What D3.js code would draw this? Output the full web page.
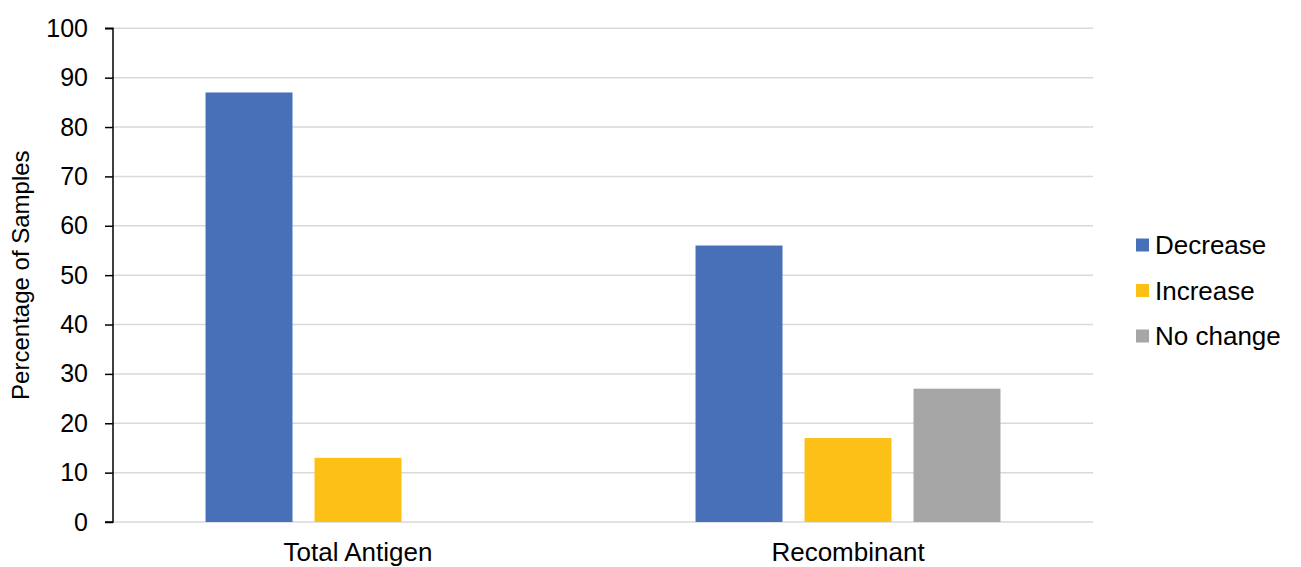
<!DOCTYPE html>
<html>
<head>
<meta charset="utf-8">
<script src="https://cdn.jsdelivr.net/npm/d3@7"></script>
<style>
  html, body { margin: 0; padding: 0; background: #fff; }
  svg { display: block; font-family: "Liberation Sans", Arial, sans-serif; }
</style>
</head>
<body>
<svg id="chart" width="1301" height="567"></svg>
<script>
const categories = ["Total Antigen", "Recombinant"];
const seriesNames = ["Decrease", "Increase", "No change"];
const decreaseValues = [87, 56];
const increaseValues = [13, 17];
const noChangeValues = [null, 27];
const yTicks = [0, 10, 20, 30, 40, 50, 60, 70, 80, 90, 100];
const colors = ["#4870B8", "#FCC016", "#A6A6A6"];
const yTitle = "Percentage of Samples";

const seriesValues = [decreaseValues, increaseValues, noChangeValues];
const rows = [];
categories.forEach((c, ci) => {
  seriesNames.forEach((s, si) => {
    const v = seriesValues[si][ci];
    if (v !== null && v !== undefined) rows.push({ cat: c, series: s, value: v, si });
  });
});

const svg = d3.select("#chart");
const margin = { left: 113, right: 208, top: 28.3, bottom: 45 };
const W = 1301, H = 567;
const x0 = d3.scaleBand().domain(categories).range([margin.left, W - margin.right]).padding(0);
const x1 = d3.scaleBand().domain(seriesNames).range([0, x0.bandwidth()]).paddingInner(0.202).paddingOuter(0.849);
const y = d3.scaleLinear().domain([0, 100]).range([522, margin.top]);

// gridlines
svg.append("g")
  .selectAll("line")
  .data(yTicks)
  .join("line")
  .attr("x1", margin.left)
  .attr("x2", W - margin.right)
  .attr("y1", d => y(d))
  .attr("y2", d => y(d))
  .attr("stroke", "#d9d9d9")
  .attr("stroke-width", 1.5);

// bars
svg.append("g")
  .selectAll("rect")
  .data(rows)
  .join("rect")
  .attr("x", d => x0(d.cat) + x1(d.series))
  .attr("width", x1.bandwidth())
  .attr("y", d => y(d.value))
  .attr("height", d => y(0) - y(d.value))
  .attr("fill", d => colors[d.si]);

// y axis
const yAxis = d3.axisLeft(y).tickValues(yTicks).tickSize(8).tickPadding(17).tickFormat(d3.format("d"));
const gy = svg.append("g").attr("transform", `translate(${margin.left},0)`).call(yAxis);
gy.select(".domain").attr("stroke", "#000").attr("stroke-width", 1.5).attr("d", `M-8,${y(100)}H0V${y(0)}H-8`);
gy.selectAll(".tick line").attr("stroke", "#000").attr("stroke-width", 1.5);
gy.selectAll(".tick text").attr("font-size", 25).attr("fill", "#000").attr("font-family", "Liberation Sans, Arial, sans-serif");

// x axis labels
const xAxis = d3.axisBottom(x0).tickSize(0).tickPadding(0);
const gx = svg.append("g").attr("transform", `translate(0,${y(0)})`).call(xAxis);
gx.select(".domain").remove();
gx.selectAll(".tick text")
  .attr("font-size", 26)
  .attr("fill", "#000")
  .attr("font-family", "Liberation Sans, Arial, sans-serif")
  .attr("dy", null)
  .attr("y", 39);

// y title
svg.append("text")
  .attr("transform", `translate(29,${(y(0) + y(100)) / 2}) rotate(-90)`)
  .attr("text-anchor", "middle")
  .attr("font-size", 24)
  .attr("fill", "#000")
  .text(yTitle);

// legend
const legend = svg.append("g").attr("transform", "translate(1136,0)");
const legendY = d3.scalePoint().domain(seriesNames).range([245, 336]);
seriesNames.forEach((s, i) => {
  const g = legend.append("g").attr("transform", `translate(0,${legendY(s)})`);
  g.append("rect").attr("x", 0).attr("y", -6.5).attr("width", 13).attr("height", 13).attr("fill", colors[i]);
  g.append("text").attr("x", 19).attr("dy", "0.35em").attr("font-size", 26).attr("fill", "#000").text(s);
});
</script>
</body>
</html>
